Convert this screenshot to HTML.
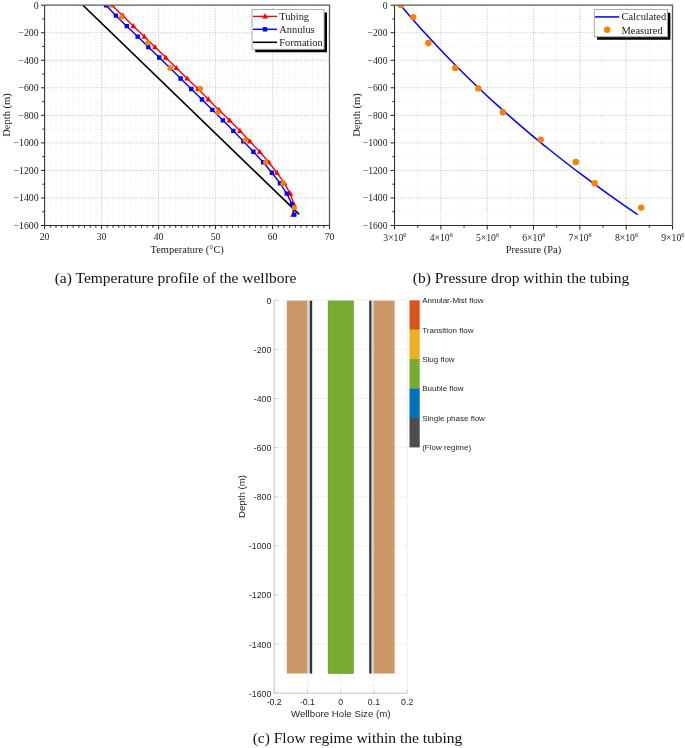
<!DOCTYPE html>
<html lang="en"><head><meta charset="utf-8"><title>Wellbore figures</title>
<style>
html,body{margin:0;padding:0;background:#fff}
body{width:685px;height:748px;overflow:hidden}
svg{display:block}
</style></head><body>
<svg width="685" height="748" viewBox="0 0 685 748">
<rect width="685" height="748" fill="#fff"/>
<g font-family='"Liberation Serif", serif' fill="#1a1a1a">
<g stroke="#f3f3f3" stroke-width="0.6"><line x1="50.3" y1="5.2" x2="50.3" y2="225.5"/><line x1="56" y1="5.2" x2="56" y2="225.5"/><line x1="61.69" y1="5.2" x2="61.69" y2="225.5"/><line x1="67.39" y1="5.2" x2="67.39" y2="225.5"/><line x1="73.09" y1="5.2" x2="73.09" y2="225.5"/><line x1="78.79" y1="5.2" x2="78.79" y2="225.5"/><line x1="84.49" y1="5.2" x2="84.49" y2="225.5"/><line x1="90.18" y1="5.2" x2="90.18" y2="225.5"/><line x1="95.88" y1="5.2" x2="95.88" y2="225.5"/><line x1="107.28" y1="5.2" x2="107.28" y2="225.5"/><line x1="112.98" y1="5.2" x2="112.98" y2="225.5"/><line x1="118.67" y1="5.2" x2="118.67" y2="225.5"/><line x1="124.37" y1="5.2" x2="124.37" y2="225.5"/><line x1="130.07" y1="5.2" x2="130.07" y2="225.5"/><line x1="135.77" y1="5.2" x2="135.77" y2="225.5"/><line x1="141.47" y1="5.2" x2="141.47" y2="225.5"/><line x1="147.16" y1="5.2" x2="147.16" y2="225.5"/><line x1="152.86" y1="5.2" x2="152.86" y2="225.5"/><line x1="164.26" y1="5.2" x2="164.26" y2="225.5"/><line x1="169.96" y1="5.2" x2="169.96" y2="225.5"/><line x1="175.65" y1="5.2" x2="175.65" y2="225.5"/><line x1="181.35" y1="5.2" x2="181.35" y2="225.5"/><line x1="187.05" y1="5.2" x2="187.05" y2="225.5"/><line x1="192.75" y1="5.2" x2="192.75" y2="225.5"/><line x1="198.45" y1="5.2" x2="198.45" y2="225.5"/><line x1="204.14" y1="5.2" x2="204.14" y2="225.5"/><line x1="209.84" y1="5.2" x2="209.84" y2="225.5"/><line x1="221.24" y1="5.2" x2="221.24" y2="225.5"/><line x1="226.94" y1="5.2" x2="226.94" y2="225.5"/><line x1="232.63" y1="5.2" x2="232.63" y2="225.5"/><line x1="238.33" y1="5.2" x2="238.33" y2="225.5"/><line x1="244.03" y1="5.2" x2="244.03" y2="225.5"/><line x1="249.73" y1="5.2" x2="249.73" y2="225.5"/><line x1="255.43" y1="5.2" x2="255.43" y2="225.5"/><line x1="261.12" y1="5.2" x2="261.12" y2="225.5"/><line x1="266.82" y1="5.2" x2="266.82" y2="225.5"/><line x1="278.22" y1="5.2" x2="278.22" y2="225.5"/><line x1="283.92" y1="5.2" x2="283.92" y2="225.5"/><line x1="289.61" y1="5.2" x2="289.61" y2="225.5"/><line x1="295.31" y1="5.2" x2="295.31" y2="225.5"/><line x1="301.01" y1="5.2" x2="301.01" y2="225.5"/><line x1="306.71" y1="5.2" x2="306.71" y2="225.5"/><line x1="312.41" y1="5.2" x2="312.41" y2="225.5"/><line x1="318.1" y1="5.2" x2="318.1" y2="225.5"/><line x1="323.8" y1="5.2" x2="323.8" y2="225.5"/><line x1="44.6" y1="18.97" x2="329.5" y2="18.97"/><line x1="44.6" y1="46.51" x2="329.5" y2="46.51"/><line x1="44.6" y1="74.04" x2="329.5" y2="74.04"/><line x1="44.6" y1="101.58" x2="329.5" y2="101.58"/><line x1="44.6" y1="129.12" x2="329.5" y2="129.12"/><line x1="44.6" y1="156.66" x2="329.5" y2="156.66"/><line x1="44.6" y1="184.19" x2="329.5" y2="184.19"/><line x1="44.6" y1="211.73" x2="329.5" y2="211.73"/></g>
<g stroke="#b4b4b4" stroke-width="0.7" stroke-dasharray="1.3 1.4"><line x1="101.58" y1="5.2" x2="101.58" y2="225.5"/><line x1="158.56" y1="5.2" x2="158.56" y2="225.5"/><line x1="215.54" y1="5.2" x2="215.54" y2="225.5"/><line x1="272.52" y1="5.2" x2="272.52" y2="225.5"/><line x1="44.6" y1="32.74" x2="329.5" y2="32.74"/><line x1="44.6" y1="60.28" x2="329.5" y2="60.28"/><line x1="44.6" y1="87.81" x2="329.5" y2="87.81"/><line x1="44.6" y1="115.35" x2="329.5" y2="115.35"/><line x1="44.6" y1="142.89" x2="329.5" y2="142.89"/><line x1="44.6" y1="170.42" x2="329.5" y2="170.42"/><line x1="44.6" y1="197.96" x2="329.5" y2="197.96"/></g>
<clipPath id="ca"><rect x="44.6" y="5.2" width="284.9" height="220.3"/></clipPath>
<g clip-path="url(#ca)">
<polyline points="111.9,5.2 122.8,15.67 133.4,26.14 144.3,36.61 155,47.08 165.7,57.55 176.4,68.02 187.2,78.49 198.1,88.96 208.4,99.43 218.9,109.9 229.5,120.37 239.9,130.84 249.9,141.31 259.7,151.78 268.8,162.25 276.9,172.72 284.3,183.19 290.3,193.66 293.7,204.13 293,214.6" fill="none" stroke="#ff0000" stroke-width="1.4"/>
<path d="M111.9 2.1l2.9 5.2h-5.8zM122.8 12.57l2.9 5.2h-5.8zM133.4 23.04l2.9 5.2h-5.8zM144.3 33.51l2.9 5.2h-5.8zM155 43.98l2.9 5.2h-5.8zM165.7 54.45l2.9 5.2h-5.8zM176.4 64.92l2.9 5.2h-5.8zM187.2 75.39l2.9 5.2h-5.8zM198.1 85.86l2.9 5.2h-5.8zM208.4 96.33l2.9 5.2h-5.8zM218.9 106.8l2.9 5.2h-5.8zM229.5 117.27l2.9 5.2h-5.8zM239.9 127.74l2.9 5.2h-5.8zM249.9 138.21l2.9 5.2h-5.8zM259.7 148.68l2.9 5.2h-5.8zM268.8 159.15l2.9 5.2h-5.8zM276.9 169.62l2.9 5.2h-5.8zM284.3 180.09l2.9 5.2h-5.8zM290.3 190.56l2.9 5.2h-5.8zM293.7 201.03l2.9 5.2h-5.8zM293 211.5l2.9 5.2h-5.8z" fill="#ff0000"/>
<polyline points="106.1,5.2 115.9,15.67 126.8,26.14 137.7,36.61 148.3,47.08 159.2,57.55 170.1,68.02 180.6,78.49 191.3,88.96 202,99.43 212.4,109.9 222.9,120.37 233.3,130.84 243.4,141.31 253.4,151.78 263.2,162.25 271.9,172.72 280,183.19 286.8,193.66 292,204.13 294.3,214.6" fill="none" stroke="#0000ff" stroke-width="1.4"/>
<path d="M103.9 3h4.4v4.4h-4.4zM113.7 13.47h4.4v4.4h-4.4zM124.6 23.94h4.4v4.4h-4.4zM135.5 34.41h4.4v4.4h-4.4zM146.1 44.88h4.4v4.4h-4.4zM157 55.35h4.4v4.4h-4.4zM167.9 65.82h4.4v4.4h-4.4zM178.4 76.29h4.4v4.4h-4.4zM189.1 86.76h4.4v4.4h-4.4zM199.8 97.23h4.4v4.4h-4.4zM210.2 107.7h4.4v4.4h-4.4zM220.7 118.17h4.4v4.4h-4.4zM231.1 128.64h4.4v4.4h-4.4zM241.2 139.11h4.4v4.4h-4.4zM251.2 149.58h4.4v4.4h-4.4zM261 160.05h4.4v4.4h-4.4zM269.7 170.52h4.4v4.4h-4.4zM277.8 180.99h4.4v4.4h-4.4zM284.6 191.46h4.4v4.4h-4.4zM289.8 201.93h4.4v4.4h-4.4zM292.1 212.4h4.4v4.4h-4.4z" fill="#0000ff"/>
<line x1="82.9" y1="5.2" x2="299.2" y2="214.4" stroke="#000" stroke-width="1.6"/>
<circle cx="110.7" cy="4.8" r="2.6" fill="#ff8000"/>
<circle cx="121.5" cy="17" r="2.6" fill="#ff8000"/>
<circle cx="147.8" cy="42.9" r="2.6" fill="#ff8000"/>
<circle cx="170.2" cy="68.2" r="2.6" fill="#ff8000"/>
<circle cx="200.4" cy="88.6" r="2.6" fill="#ff8000"/>
<circle cx="217.7" cy="112.2" r="2.6" fill="#ff8000"/>
<circle cx="245.2" cy="140" r="2.6" fill="#ff8000"/>
<circle cx="265.7" cy="162.2" r="2.6" fill="#ff8000"/>
<circle cx="283" cy="183.4" r="2.6" fill="#ff8000"/>
<circle cx="294.3" cy="207.7" r="2.6" fill="#ff8000"/>
</g>
<path d="M44.6 5.2H329.5V225.5" fill="none" stroke="#5a5a5a" stroke-width="1.3"/>
<path d="M44.6 5.2V225.5H329.5" fill="none" stroke="#2e2e2e" stroke-width="1.05"/>
<path d="M44.6 225.5v3.6M101.58 225.5v3.6M158.56 225.5v3.6M215.54 225.5v3.6M272.52 225.5v3.6M329.5 225.5v3.6M50.3 225.5v2.2M56 225.5v2.2M61.69 225.5v2.2M67.39 225.5v2.2M73.09 225.5v2.2M78.79 225.5v2.2M84.49 225.5v2.2M90.18 225.5v2.2M95.88 225.5v2.2M107.28 225.5v2.2M112.98 225.5v2.2M118.67 225.5v2.2M124.37 225.5v2.2M130.07 225.5v2.2M135.77 225.5v2.2M141.47 225.5v2.2M147.16 225.5v2.2M152.86 225.5v2.2M164.26 225.5v2.2M169.96 225.5v2.2M175.65 225.5v2.2M181.35 225.5v2.2M187.05 225.5v2.2M192.75 225.5v2.2M198.45 225.5v2.2M204.14 225.5v2.2M209.84 225.5v2.2M221.24 225.5v2.2M226.94 225.5v2.2M232.63 225.5v2.2M238.33 225.5v2.2M244.03 225.5v2.2M249.73 225.5v2.2M255.43 225.5v2.2M261.12 225.5v2.2M266.82 225.5v2.2M278.22 225.5v2.2M283.92 225.5v2.2M289.61 225.5v2.2M295.31 225.5v2.2M301.01 225.5v2.2M306.71 225.5v2.2M312.41 225.5v2.2M318.1 225.5v2.2M323.8 225.5v2.2M44.6 5.2h-3.6M44.6 32.74h-3.6M44.6 60.28h-3.6M44.6 87.81h-3.6M44.6 115.35h-3.6M44.6 142.89h-3.6M44.6 170.42h-3.6M44.6 197.96h-3.6M44.6 225.5h-3.6M44.6 18.97h-2.2M44.6 46.51h-2.2M44.6 74.04h-2.2M44.6 101.58h-2.2M44.6 129.12h-2.2M44.6 156.66h-2.2M44.6 184.19h-2.2M44.6 211.73h-2.2" fill="none" stroke="#222" stroke-width="1"/>
<text x="38.6" y="8.5" text-anchor="end" font-size="9.8">0</text>
<text x="38.6" y="36.04" text-anchor="end" font-size="9.8">−200</text>
<text x="38.6" y="63.58" text-anchor="end" font-size="9.8">−400</text>
<text x="38.6" y="91.11" text-anchor="end" font-size="9.8">−600</text>
<text x="38.6" y="118.65" text-anchor="end" font-size="9.8">−800</text>
<text x="38.6" y="146.19" text-anchor="end" font-size="9.8">−1000</text>
<text x="38.6" y="173.72" text-anchor="end" font-size="9.8">−1200</text>
<text x="38.6" y="201.26" text-anchor="end" font-size="9.8">−1400</text>
<text x="38.6" y="228.8" text-anchor="end" font-size="9.8">−1600</text>
<text x="44.6" y="240.4" text-anchor="middle" font-size="9.7">20</text>
<text x="101.58" y="240.4" text-anchor="middle" font-size="9.7">30</text>
<text x="158.56" y="240.4" text-anchor="middle" font-size="9.7">40</text>
<text x="215.54" y="240.4" text-anchor="middle" font-size="9.7">50</text>
<text x="272.52" y="240.4" text-anchor="middle" font-size="9.7">60</text>
<text x="329.5" y="240.4" text-anchor="middle" font-size="9.7">70</text>
<text x="187.2" y="253.1" text-anchor="middle" font-size="10.45">Temperature (°C)</text>
<text transform="translate(10.1 115) rotate(-90)" text-anchor="middle" font-size="10.55">Depth (m)</text>
<path d="M255.2 12.5H327V52.2H255.2z" fill="#000"/>
<rect x="252" y="9.6" width="72.1" height="39.7" fill="#fff" stroke="#a0a0a0" stroke-width="0.9"/>
<line x1="253" y1="16.4" x2="277" y2="16.4" stroke="#ff0000" stroke-width="1.4"/>
<path d="M265 13.3l2.9 5.2h-5.8z" fill="#ff0000"/>
<line x1="253" y1="29.3" x2="277" y2="29.3" stroke="#0000ff" stroke-width="1.4"/>
<rect x="262.8" y="27.1" width="4.4" height="4.4" fill="#0000ff"/>
<line x1="253" y1="42.3" x2="277" y2="42.3" stroke="#000" stroke-width="1.6"/>
<text x="279.3" y="19.8" font-size="10.45">Tubing</text>
<text x="279.3" y="32.8" font-size="10.45">Annulus</text>
<text x="279.3" y="45.8" font-size="10.45">Formation</text>
<text x="175.6" y="282.6" text-anchor="middle" font-size="15.5" fill="#111">(a) Temperature profile of the wellbore</text>
<g stroke="#f3f3f3" stroke-width="0.6"><line x1="417.71" y1="5.2" x2="417.71" y2="225.5"/><line x1="464.04" y1="5.2" x2="464.04" y2="225.5"/><line x1="510.36" y1="5.2" x2="510.36" y2="225.5"/><line x1="556.69" y1="5.2" x2="556.69" y2="225.5"/><line x1="603.01" y1="5.2" x2="603.01" y2="225.5"/><line x1="649.34" y1="5.2" x2="649.34" y2="225.5"/><line x1="394.55" y1="18.97" x2="672.5" y2="18.97"/><line x1="394.55" y1="46.51" x2="672.5" y2="46.51"/><line x1="394.55" y1="74.04" x2="672.5" y2="74.04"/><line x1="394.55" y1="101.58" x2="672.5" y2="101.58"/><line x1="394.55" y1="129.12" x2="672.5" y2="129.12"/><line x1="394.55" y1="156.66" x2="672.5" y2="156.66"/><line x1="394.55" y1="184.19" x2="672.5" y2="184.19"/><line x1="394.55" y1="211.73" x2="672.5" y2="211.73"/></g>
<g stroke="#b4b4b4" stroke-width="0.7" stroke-dasharray="1.3 1.4"><line x1="440.88" y1="5.2" x2="440.88" y2="225.5"/><line x1="487.2" y1="5.2" x2="487.2" y2="225.5"/><line x1="533.52" y1="5.2" x2="533.52" y2="225.5"/><line x1="579.85" y1="5.2" x2="579.85" y2="225.5"/><line x1="626.17" y1="5.2" x2="626.17" y2="225.5"/><line x1="394.55" y1="32.74" x2="672.5" y2="32.74"/><line x1="394.55" y1="60.28" x2="672.5" y2="60.28"/><line x1="394.55" y1="87.81" x2="672.5" y2="87.81"/><line x1="394.55" y1="115.35" x2="672.5" y2="115.35"/><line x1="394.55" y1="142.89" x2="672.5" y2="142.89"/><line x1="394.55" y1="170.42" x2="672.5" y2="170.42"/><line x1="394.55" y1="197.96" x2="672.5" y2="197.96"/></g>
<clipPath id="cb"><rect x="394.55" y="5.2" width="277.95" height="220.3"/></clipPath>
<g clip-path="url(#cb)">
<polyline points="400.65,5.2 404.87,10.19 409.14,15.17 413.47,20.16 417.86,25.14 422.31,30.13 426.82,35.11 431.4,40.1 436.04,45.09 440.74,50.07 445.51,55.06 450.34,60.04 455.24,65.03 460.2,70.01 465.24,75 470.35,79.99 475.52,84.97 480.77,89.96 486.09,94.94 491.48,99.93 496.94,104.91 502.48,109.9 508.1,114.89 513.79,119.87 519.56,124.86 525.41,129.84 531.34,134.83 537.34,139.81 543.43,144.8 549.6,149.79 555.85,154.77 562.19,159.76 568.61,164.74 575.12,169.73 581.71,174.71 588.39,179.7 595.16,184.69 602.01,189.67 608.96,194.66 616,199.64 623.12,204.63 630.35,209.61 637.66,214.6" fill="none" stroke="#0000ff" stroke-width="1.5"/>
<circle cx="400.7" cy="5.1" r="3.2" fill="#ff8000"/>
<circle cx="413.3" cy="17.1" r="3.2" fill="#ff8000"/>
<circle cx="428.4" cy="43" r="3.2" fill="#ff8000"/>
<circle cx="455.3" cy="67.9" r="3.2" fill="#ff8000"/>
<circle cx="478.3" cy="88.4" r="3.2" fill="#ff8000"/>
<circle cx="502.9" cy="112.2" r="3.2" fill="#ff8000"/>
<circle cx="540.7" cy="139.6" r="3.2" fill="#ff8000"/>
<circle cx="575.8" cy="162" r="3.2" fill="#ff8000"/>
<circle cx="594.6" cy="183.2" r="3.2" fill="#ff8000"/>
<circle cx="641.2" cy="207.6" r="3.2" fill="#ff8000"/>
</g>
<path d="M394.55 5.2H672.5V225.5" fill="none" stroke="#5a5a5a" stroke-width="1.3"/>
<path d="M394.55 5.2V225.5H672.5" fill="none" stroke="#2e2e2e" stroke-width="1.05"/>
<path d="M394.55 225.5v4.0M440.88 225.5v4.0M487.2 225.5v4.0M533.52 225.5v4.0M579.85 225.5v4.0M626.17 225.5v4.0M672.5 225.5v4.0M417.71 225.5v2.2M464.04 225.5v2.2M510.36 225.5v2.2M556.69 225.5v2.2M603.01 225.5v2.2M649.34 225.5v2.2M394.55 5.2h-4.0M394.55 32.74h-4.0M394.55 60.28h-4.0M394.55 87.81h-4.0M394.55 115.35h-4.0M394.55 142.89h-4.0M394.55 170.42h-4.0M394.55 197.96h-4.0M394.55 225.5h-4.0M394.55 18.97h-2.2M394.55 46.51h-2.2M394.55 74.04h-2.2M394.55 101.58h-2.2M394.55 129.12h-2.2M394.55 156.66h-2.2M394.55 184.19h-2.2M394.55 211.73h-2.2" fill="none" stroke="#222" stroke-width="1"/>
<text x="387.55" y="8.5" text-anchor="end" font-size="9.7">0</text>
<text x="387.55" y="36.04" text-anchor="end" font-size="9.7">−200</text>
<text x="387.55" y="63.58" text-anchor="end" font-size="9.7">−400</text>
<text x="387.55" y="91.11" text-anchor="end" font-size="9.7">−600</text>
<text x="387.55" y="118.65" text-anchor="end" font-size="9.7">−800</text>
<text x="387.55" y="146.19" text-anchor="end" font-size="9.7">−1000</text>
<text x="387.55" y="173.72" text-anchor="end" font-size="9.7">−1200</text>
<text x="387.55" y="201.26" text-anchor="end" font-size="9.7">−1400</text>
<text x="387.55" y="228.8" text-anchor="end" font-size="9.7">−1600</text>
<text x="394.85" y="240.9" text-anchor="middle" font-size="9.7">3×10<tspan font-size="6.2" dy="-4">6</tspan></text>
<text x="441.18" y="240.9" text-anchor="middle" font-size="9.7">4×10<tspan font-size="6.2" dy="-4">6</tspan></text>
<text x="487.5" y="240.9" text-anchor="middle" font-size="9.7">5×10<tspan font-size="6.2" dy="-4">6</tspan></text>
<text x="533.82" y="240.9" text-anchor="middle" font-size="9.7">6×10<tspan font-size="6.2" dy="-4">6</tspan></text>
<text x="580.15" y="240.9" text-anchor="middle" font-size="9.7">7×10<tspan font-size="6.2" dy="-4">6</tspan></text>
<text x="626.47" y="240.9" text-anchor="middle" font-size="9.7">8×10<tspan font-size="6.2" dy="-4">6</tspan></text>
<text x="672.8" y="240.9" text-anchor="middle" font-size="9.7">9×10<tspan font-size="6.2" dy="-4">6</tspan></text>
<text x="533.5" y="253.1" text-anchor="middle" font-size="10.45">Pressure (Pa)</text>
<text transform="translate(359.5 115) rotate(-90)" text-anchor="middle" font-size="10.5">Depth (m)</text>
<path d="M597 12.8H670.4V39.7H597z" fill="#000"/>
<rect x="594.3" y="9.6" width="73.2" height="27.2" fill="#fff" stroke="#a0a0a0" stroke-width="0.9"/>
<line x1="595" y1="16.9" x2="619.3" y2="16.9" stroke="#0000ff" stroke-width="1.5"/>
<circle cx="607.2" cy="29.8" r="3.2" fill="#ff8000"/>
<text x="621.5" y="20.4" font-size="10.45">Calculated</text>
<text x="621.5" y="33.5" font-size="10.45">Measured</text>
<text x="521" y="282.6" text-anchor="middle" font-size="15.5" fill="#111">(b) Pressure drop within the tubing</text>
</g>
<g font-family='"Liberation Sans", sans-serif' fill="#262626">
<g stroke="#ebebeb" stroke-width="0.7"><line x1="307.45" y1="300.3" x2="307.45" y2="693.2"/><line x1="340.7" y1="300.3" x2="340.7" y2="693.2"/><line x1="373.95" y1="300.3" x2="373.95" y2="693.2"/><line x1="274.2" y1="349.41" x2="407.2" y2="349.41"/><line x1="274.2" y1="398.52" x2="407.2" y2="398.52"/><line x1="274.2" y1="447.64" x2="407.2" y2="447.64"/><line x1="274.2" y1="496.75" x2="407.2" y2="496.75"/><line x1="274.2" y1="545.86" x2="407.2" y2="545.86"/><line x1="274.2" y1="594.98" x2="407.2" y2="594.98"/><line x1="274.2" y1="644.09" x2="407.2" y2="644.09"/></g>
<rect x="286.8" y="300.3" width="20.4" height="373.26" fill="#cc9966"/>
<rect x="307.1" y="300.3" width="2.9" height="373.26" fill="#cfcfcf"/>
<rect x="309.9" y="300.3" width="2.3" height="373.26" fill="#333"/>
<rect x="328.1" y="300.3" width="25.4" height="373.26" fill="#77ac30" stroke="#5f8a28" stroke-width="0.5"/>
<rect x="369.2" y="300.3" width="2.4" height="373.26" fill="#333"/>
<rect x="371.6" y="300.3" width="2.4" height="373.26" fill="#cfcfcf"/>
<rect x="374.0" y="300.3" width="20.6" height="373.26" fill="#cc9966"/>
<path d="M274.2 300.3H407.2V693.2" fill="none" stroke="#e6e6e6" stroke-width="0.7"/>
<path d="M274.2 300.3V693.2H407.2" fill="none" stroke="#c6c6c6" stroke-width="1"/>
<path d="M274.2 300.3h3.6M274.2 349.41h3.6M274.2 398.52h3.6M274.2 447.64h3.6M274.2 496.75h3.6M274.2 545.86h3.6M274.2 594.98h3.6M274.2 644.09h3.6M274.2 693.2h3.6M274.2 693.2v-3.6M307.45 693.2v-3.6M340.7 693.2v-3.6M373.95 693.2v-3.6M407.2 693.2v-3.6" fill="none" stroke="#c0c0c0" stroke-width="0.8"/>
<text x="271.3" y="303.75" text-anchor="end" font-size="8.75">0</text>
<text x="271.3" y="352.86" text-anchor="end" font-size="8.75">-200</text>
<text x="271.3" y="401.97" text-anchor="end" font-size="8.75">-400</text>
<text x="271.3" y="451.09" text-anchor="end" font-size="8.75">-600</text>
<text x="271.3" y="500.2" text-anchor="end" font-size="8.75">-800</text>
<text x="271.3" y="549.31" text-anchor="end" font-size="8.75">-1000</text>
<text x="271.3" y="598.43" text-anchor="end" font-size="8.75">-1200</text>
<text x="271.3" y="647.54" text-anchor="end" font-size="8.75">-1400</text>
<text x="271.3" y="696.65" text-anchor="end" font-size="8.75">-1600</text>
<text x="274.2" y="705.1" text-anchor="middle" font-size="8.75">-0.2</text>
<text x="307.45" y="705.1" text-anchor="middle" font-size="8.75">-0.1</text>
<text x="340.7" y="705.1" text-anchor="middle" font-size="8.75">0</text>
<text x="373.95" y="705.1" text-anchor="middle" font-size="8.75">0.1</text>
<text x="407.2" y="705.1" text-anchor="middle" font-size="8.75">0.2</text>
<text x="340.8" y="717.4" text-anchor="middle" font-size="9.7">Wellbore Hole Size (m)</text>
<text transform="translate(245.4 496.5) rotate(-90)" text-anchor="middle" font-size="9.7">Depth (m)</text>
<rect x="409.5" y="300.3" width="10.2" height="29.58" fill="#d95319"/>
<rect x="409.5" y="329.68" width="10.2" height="29.58" fill="#edb120"/>
<rect x="409.5" y="359.06" width="10.2" height="29.58" fill="#77ac30"/>
<rect x="409.5" y="388.44" width="10.2" height="29.58" fill="#0072bd"/>
<rect x="409.5" y="417.82" width="10.2" height="29.58" fill="#4d4d4d"/>
<text x="422.2" y="303.3" font-size="8">Annular-Mist flow</text>
<text x="422.2" y="332.68" font-size="8">Transition flow</text>
<text x="422.2" y="362.06" font-size="8">Slug flow</text>
<text x="422.2" y="391.44" font-size="8">Buuble flow</text>
<text x="422.2" y="420.82" font-size="8">Single phase flow</text>
<text x="422.2" y="450.2" font-size="8">(Flow regime)</text>
</g>
<text x="357.5" y="743.2" text-anchor="middle" font-size="15.5" fill="#111" font-family='"Liberation Serif", serif'>(c) Flow regime within the tubing</text>
</svg>
</body></html>
